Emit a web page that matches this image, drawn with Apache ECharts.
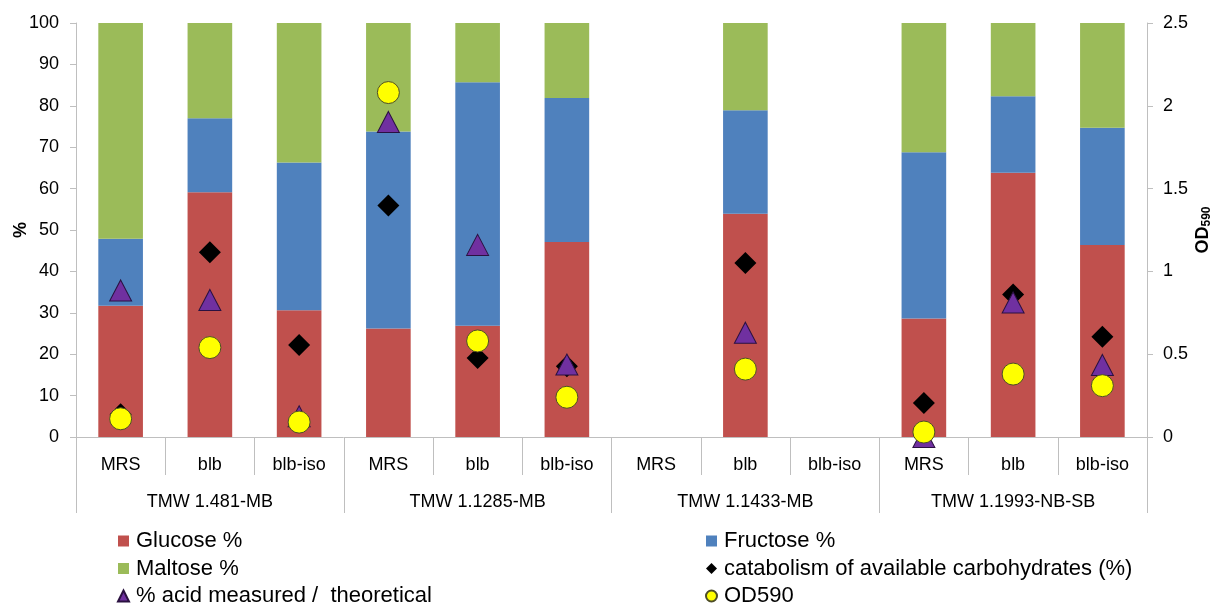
<!DOCTYPE html>
<html>
<head>
<meta charset="utf-8">
<script src="https://cdn.jsdelivr.net/npm/echarts@6/dist/echarts.min.js"></script>
<style>
  html, body { margin: 0; padding: 0; background: #ffffff; }
  #chart { width: 1213px; height: 603px; }
</style>
</head>
<body>
<div id="chart"></div>
<script>
// Growth media per strain
const media = ['MRS', 'blb', 'blb-iso', 'MRS', 'blb', 'blb-iso', 'MRS', 'blb', 'blb-iso', 'MRS', 'blb', 'blb-iso'];
const strains = ['TMW 1.481-MB', 'TMW 1.1285-MB', 'TMW 1.1433-MB', 'TMW 1.1993-NB-SB'];

// Sugar composition (%), stacked to 100
const glucose  = [31.7, 59.1, 30.6, 26.2, 26.9, 47.1, null, 53.9, null, 28.6, 63.8, 46.4];
const fructose = [16.2, 17.9, 35.7, 47.6, 58.8, 34.8, null, 25.0, null, 40.2, 18.5, 28.3];
const maltose  = [52.1, 23.0, 33.7, 26.2, 14.3, 18.1, null, 21.1, null, 31.2, 17.7, 25.3];

// Markers
const catabolism = [5.5, 44.6, 22.2, 55.9, 19.1, 17.1, null, 42.0, null, 8.2, 34.4, 24.2];
const acidRatio  = [35.4, 33.1, 5.0, 76.1, 46.4, 17.5, null, 25.2, null, 0.0, 32.5, 17.4];
const od590      = [0.11, 0.54, 0.09, 2.08, 0.58, 0.24, null, 0.41, null, 0.03, 0.38, 0.31];

const FONT = '"Liberation Sans", Arial, sans-serif';
const AXIS_GRAY = '#BFBFBF';

const chart = echarts.init(document.getElementById('chart'), null, { renderer: 'canvas' });

const barSeries = (name, data, color) => ({
  name, type: 'bar', stack: 'sugar', data,
  xAxisIndex: 0, yAxisIndex: 0,
  barWidth: '50%',
  itemStyle: { color },
  emphasis: { disabled: true }
});

const legendText = { fontFamily: FONT, fontSize: 22, color: '#000', lineHeight: 22, padding: [0, 0, 0, 2] };

chart.setOption({
  animation: false,
  textStyle: { fontFamily: FONT },
  grid: { left: 76, right: 66, top: 23, bottom: 166, containLabel: false, outerBoundsMode: 'none' },
  legend: [
    {
      orient: 'vertical', left: 117, top: 530, height: 90, padding: 0,
      itemWidth: 11, itemHeight: 11, itemGap: 5.5,
      textStyle: legendText,
      data: [
        { name: 'Glucose %', icon: 'rect' },
        { name: 'Maltose %', icon: 'rect' },
        { name: '% acid measured /  theoretical' }
      ]
    },
    {
      orient: 'vertical', left: 705, top: 530, height: 90, padding: 0,
      itemWidth: 11, itemHeight: 11, itemGap: 5.5,
      textStyle: legendText,
      data: [
        { name: 'Fructose %', icon: 'rect' },
        { name: 'catabolism of available carbohydrates (%)' },
        { name: 'OD590' }
      ]
    }
  ],
  xAxis: [
    {
      type: 'category', data: media, position: 'bottom',
      axisLine: { show: true, lineStyle: { color: AXIS_GRAY, width: 1 } },
      axisTick: { show: true, interval: 0, length: 38, lineStyle: { color: AXIS_GRAY } },
      axisLabel: { interval: 0, margin: 19, fontSize: 18, color: '#000', fontFamily: FONT },
      splitLine: { show: false }
    },
    {
      type: 'category', data: strains, position: 'bottom',
      axisLine: { show: false },
      axisTick: { show: true, interval: 0, length: 76, lineStyle: { color: AXIS_GRAY } },
      axisLabel: { interval: 0, margin: 56, fontSize: 18, color: '#000', fontFamily: FONT },
      splitLine: { show: false }
    }
  ],
  yAxis: [
    {
      type: 'value', min: 0, max: 100, interval: 10, position: 'left',
      name: '%', nameLocation: 'middle', nameRotate: 90, nameGap: 46, nameMoveOverlap: false,
      nameTextStyle: { fontFamily: FONT, fontSize: 18, fontWeight: 'bold', color: '#000' },
      axisLine: { show: true, lineStyle: { color: AXIS_GRAY } },
      axisTick: { show: true, length: 6, lineStyle: { color: AXIS_GRAY } },
      axisLabel: { margin: 17, fontSize: 18, color: '#000', fontFamily: FONT },
      splitLine: { show: false }
    },
    {
      type: 'value', min: 0, max: 2.5, interval: 0.5, position: 'right',
      name: 'OD{s|590}', nameLocation: 'middle', nameRotate: 90, nameGap: 46, nameMoveOverlap: false,
      nameTextStyle: {
        fontFamily: FONT, fontSize: 18, fontWeight: 'bold', color: '#000',
        rich: {
          s: { fontFamily: FONT, fontSize: 12, fontWeight: 'bold', color: '#000', padding: [8, 0, 0, 0] }
        }
      },
      axisLine: { show: true, lineStyle: { color: AXIS_GRAY } },
      axisTick: { show: true, length: 6, lineStyle: { color: AXIS_GRAY } },
      axisLabel: { margin: 16, fontSize: 18, color: '#000', fontFamily: FONT },
      splitLine: { show: false }
    }
  ],
  series: [
    barSeries('Glucose %', glucose, '#C0504D'),
    barSeries('Fructose %', fructose, '#4F81BD'),
    barSeries('Maltose %', maltose, '#9BBB59'),
    {
      name: 'catabolism of available carbohydrates (%)', type: 'scatter',
      xAxisIndex: 0, yAxisIndex: 0, data: catabolism, clip: false,
      symbol: 'diamond', symbolSize: 22,
      itemStyle: { color: '#000000', opacity: 1 },
      emphasis: { disabled: true }
    },
    {
      name: '% acid measured /  theoretical', type: 'scatter',
      xAxisIndex: 0, yAxisIndex: 0, data: acidRatio, clip: false,
      symbol: 'triangle', symbolSize: [22, 21],
      itemStyle: { color: '#7030A0', borderColor: '#2A1140', borderWidth: 1, opacity: 1 },
      emphasis: { disabled: true }
    },
    {
      name: 'OD590', type: 'scatter',
      xAxisIndex: 0, yAxisIndex: 1, data: od590, clip: false,
      symbol: 'circle', symbolSize: 22,
      itemStyle: { color: '#FFFF00', borderColor: '#4D4D26', borderWidth: 1, opacity: 1 },
      emphasis: { disabled: true }
    }
  ]
});
</script>
</body>
</html>
